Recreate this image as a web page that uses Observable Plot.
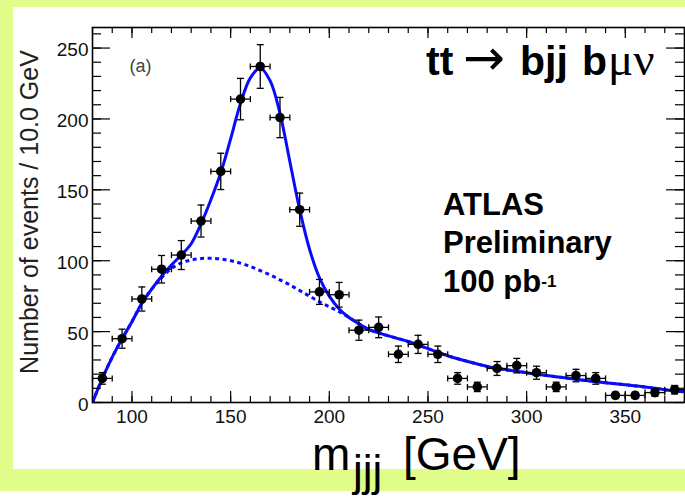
<!DOCTYPE html>
<html><head><meta charset="utf-8">
<script src="https://cdn.jsdelivr.net/npm/d3@7"></script>
<script src="https://cdn.jsdelivr.net/npm/@observablehq/plot@0.6"></script>
<style>
body{margin:0;background:#fff;}
#page{position:relative;width:685px;height:497px;overflow:hidden;font-family:"Liberation Sans",Arial,Helvetica,sans-serif;}
#band{position:absolute;left:0;top:0;width:685px;height:491px;background:#dffd88;}
#panel{position:absolute;left:13px;top:7px;width:672px;height:462px;background:#fff;}
#chart{position:absolute;left:0;top:0;}
</style></head>
<body><div id="page"><div id="band"></div><div id="panel"></div><div id="chart"></div></div>
<script>
// ---- data ----
const binCenters = [85,95,105,115,125,135,145,155,165,175,185,195,205,215,225,235,245,255,265,275,285,295,305,315,325,335,345,355,365,375];
const counts     = [17,45,73,94,104,128,163,214,237,201,136,78,76,51,53,34,41,34,17,11,24,26,21,11,19,17,5,5,7,9];
const errors     = [4.1,6.7,8.5,9.7,10.2,11.3,12.8,14.6,15.4,14.2,11.7,8.8,8.7,7.1,7.3,5.8,6.4,5.8,4.1,3.3,4.9,5.1,4.6,3.3,4.4,4.1,2.2,2.2,2.6,3.0];
const binHalfWidth = 5;

const fitX     = [80,85,90,95,100,105,110,115,120,125,130,135,140,145,150,155,160,165,170,175,180,185,190,195,200,205,210,215,220,230,240,250,260,270,280,290,300,310,320,330,340,350,360,370,380];
const fitTotal = [0,17,32,45,57,70,80,89,97,104,112,126,143,162,186,211,229,236,227,204,170,136,108,88,75,66,60,55.5,51.5,47,43,38,33,29,25.5,23,21,19,17.3,15.5,14,12.5,11,9,7.5];
const bkgX     = [80,85,90,95,100,105,110,115,120,125,130,135,140,145,150,155,160,165,170,175,180,185,190,195,200,205,210,215,220,230,240,250,260,270,280,290,300,310,320,330,340,350,360,370,380];
const fitBkg   = [0,17,32,45,57,70,80,88,94.5,98.5,100.5,101.5,101.8,101.2,100,98.3,96,93,90,86.5,83,79,75,71,67.5,64,60,55.5,51.5,47,43,38,33,29,25.5,23,21,19,17.3,15.5,14,12.5,11,9,7.5];

const xTicks = [100,150,200,250,300,350];
const yTicks = [0,50,100,150,200,250];
const xMinor = d3.range(80, 381, 10);
const yMinor = d3.range(0, 261, 10);

const yLabel = "Number of events / 10.0 GeV";
const panelTag = "(a)";
const atlasLines = ["ATLAS", "Preliminary"];

// ---- build ----
const data = binCenters.map((x, i) => ({x, y: counts[i], e: errors[i]}));
const total = fitX.map((x, i) => ({x, y: fitTotal[i]}));
const bkg = bkgX.map((x, i) => ({x, y: fitBkg[i]}));

const W = 685, H = 497, mL = 92, mR = 1, mT = 27, mB = 95;
const fw = W - mL - mR, fh = H - mT - mB;
const blue = "#0a0aff";
const font = "'Liberation Sans', Arial, Helvetica, sans-serif";

const vCap = {draw(ctx) { ctx.moveTo(0, -3); ctx.lineTo(0, 3); }};
const hCap = {draw(ctx) { ctx.moveTo(-3.5, 0); ctx.lineTo(3.5, 0); }};

const chart = Plot.plot({
  width: W, height: H,
  marginLeft: mL, marginRight: mR, marginTop: mT, marginBottom: mB,
  style: {background: "transparent", fontFamily: font, color: "#111", overflow: "visible"},
  x: {domain: [80, 380]},
  y: {domain: [0, 264.5]},
  marks: [
    Plot.line(bkg, {x: "x", y: "y", stroke: blue, strokeWidth: 3, strokeDasharray: "4,3.5", strokeLinecap: "butt", curve: "catmull-rom", clip: true}),
    Plot.line(total, {x: "x", y: "y", stroke: blue, strokeWidth: 3, curve: "catmull-rom", clip: true}),
    Plot.ruleY(data, {y: "y", x1: d => d.x - binHalfWidth, x2: d => d.x + binHalfWidth, stroke: "#000", strokeWidth: 1.3}),
    Plot.ruleX(data, {x: "x", y1: d => d.y - d.e, y2: d => d.y + d.e, stroke: "#000", strokeWidth: 1.3}),
    Plot.dot(data, {x: d => d.x - binHalfWidth, y: "y", symbol: vCap, fill: "none", stroke: "#000", strokeWidth: 1.3}),
    Plot.dot(data, {x: d => d.x + binHalfWidth, y: "y", symbol: vCap, fill: "none", stroke: "#000", strokeWidth: 1.3}),
    Plot.dot(data, {x: "x", y: d => d.y - d.e, symbol: hCap, fill: "none", stroke: "#000", strokeWidth: 1.3}),
    Plot.dot(data, {x: "x", y: d => d.y + d.e, symbol: hCap, fill: "none", stroke: "#000", strokeWidth: 1.3}),
    Plot.dot(data, {x: "x", y: "y", r: 4.8, fill: "#000"}),
    // inward ticks on all four sides
    Plot.tickX(xMinor, {x: d => d, insetTop: fh - 6, stroke: "#000", strokeWidth: 1.2}),
    Plot.tickX(xTicks, {x: d => d, insetTop: fh - 11, stroke: "#000", strokeWidth: 1.2}),
    Plot.tickX(xMinor, {x: d => d, insetBottom: fh - 6, stroke: "#000", strokeWidth: 1.2}),
    Plot.tickX(xTicks, {x: d => d, insetBottom: fh - 11, stroke: "#000", strokeWidth: 1.2}),
    Plot.tickY(yMinor, {y: d => d, insetRight: fw - 9, stroke: "#000", strokeWidth: 1.2}),
    Plot.tickY(yTicks, {y: d => d, insetRight: fw - 18, stroke: "#000", strokeWidth: 1.2}),
    Plot.tickY(yMinor, {y: d => d, insetLeft: fw - 9, stroke: "#000", strokeWidth: 1.2}),
    Plot.tickY(yTicks, {y: d => d, insetLeft: fw - 18, stroke: "#000", strokeWidth: 1.2}),
    Plot.frame({stroke: "#000", strokeWidth: 1.6}),
    Plot.axisX(xTicks, {tickSize: 0, tickPadding: 7, fontSize: 19, label: null, fill: "#111"}),
    Plot.axisY(yTicks, {tickSize: 0, tickPadding: 4, fontSize: 19, label: null, fill: "#111", dy: 2}),
    Plot.text([yLabel], {text: d => d, frameAnchor: "left", textAnchor: "middle", rotate: -90, dx: -63, dy: -3, fontSize: 25, fill: "#222"})
  ]
});
document.getElementById("chart").appendChild(chart);

// annotations (rich text with sub/superscripts)
const svg = d3.select(chart);
const g = svg.append("g").attr("font-family", font).attr("fill", "#000").attr("text-anchor", "start");

g.append("text").attr("x", 129.5).attr("y", 71.5).attr("font-size", 18).attr("fill", "#444").text(panelTag);

const title = g.append("text").attr("y", 75).attr("font-size", 41);
title.append("tspan").attr("x", 426).attr("font-weight", "bold").text("tt");
title.append("tspan").attr("x", 463).attr("font-family", "'DejaVu Sans', sans-serif").attr("font-size", 50).attr("font-weight", "normal").text("\u2192");
title.append("tspan").attr("x", 520).attr("font-weight", "bold").text("bjj");
title.append("tspan").attr("x", 582).attr("font-weight", "bold").text("b");
title.append("tspan").attr("x", 608).attr("font-family", "'Liberation Serif', 'DejaVu Serif', serif").attr("font-size", 47).text("\u03bc\u03bd");

atlasLines.forEach((t, i) => {
  g.append("text").attr("x", 443).attr("y", 215 + i * 38.4).attr("font-size", 31).attr("font-weight", "bold").text(t);
});
const lumi = g.append("text").attr("x", 443).attr("y", 291.7).attr("font-size", 31).attr("font-weight", "bold");
lumi.append("tspan").text("100 pb");
lumi.append("tspan").attr("font-size", 17).attr("dy", -5).text("-1");

const xl = g.append("text").attr("y", 470).attr("font-size", 46);
xl.append("tspan").attr("x", 312).text("m");
xl.append("tspan").attr("x", 353).attr("dy", 15.5).attr("font-size", 44).text("jjj");
xl.append("tspan").attr("x", 403).attr("dy", -15.5).text("[GeV]");
</script>
</body></html>
